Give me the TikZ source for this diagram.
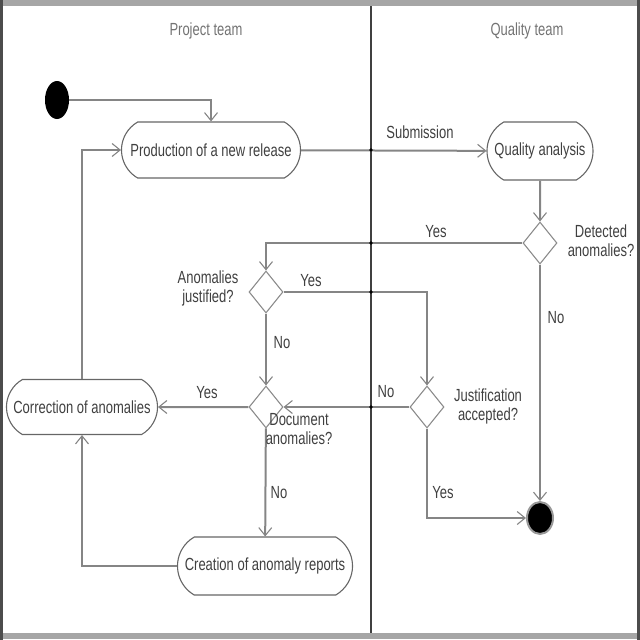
\documentclass[tikz,border=0pt]{standalone}
\usepackage{fontspec}
\setmainfont{Liberation Sans}
\usetikzlibrary{arrows.meta,shapes.misc,shapes.geometric}
\newcommand{\vt}[1]{\scalebox{1}[1.35]{#1}}
\newcommand{\vtt}[2]{\scalebox{1}[1.35]{\begin{tabular}{@{}c@{}}#1\\#2\end{tabular}}}
\begin{document}
\begin{tikzpicture}[x=1pt,y=-1pt,
  every node/.style={font=\fontsize{13}{14}\selectfont, text=black!75, inner sep=0pt},
  act/.style={draw=black!60, line width=1.1pt, rounded rectangle, rounded rectangle arc length=120, inner xsep=2pt},
  dec/.style={draw=black!45, line width=1.1pt, diamond, minimum width=34pt, minimum height=42pt, inner sep=0pt},
  startn/.style={ellipse, fill=black, minimum width=24pt, minimum height=38pt},
  endn/.style={ellipse, fill=black, draw=black!40, line width=2pt, minimum width=26pt, minimum height=32pt},
  conn/.style={draw=black!48, line width=2pt, -{Straight Barb[length=8pt,width=13pt,line width=1.1pt]}},
  lbl/.style={text=black!75},
  title/.style={text=black!55}]
\useasboundingbox (0,0) rectangle (640,640);
% frame
\draw[line width=6pt, black!35] (0,3) -- (640,3);
\draw[line width=6pt, black!35] (0,636) -- (640,636);
\draw[line width=2.5pt, black!70] (1.5,0) -- (1.5,640);
\draw[line width=2.5pt, black!70] (638.5,0) -- (638.5,640);
% lane separator
\draw[line width=1.1pt, black!75] (371,6) -- (371,633);
% titles
\node[title] (t1) at (206,31) {\vt{Project team}};
\node[title] (t2) at (527,31) {\vt{Quality team}};
% nodes
\node[startn] (start) at (57,100) {};
\node[act, minimum width=183pt, minimum height=56pt] (prod) at (211,150) {\vt{Production of a new release}};
\node[act, minimum width=110pt, minimum height=58pt] (qa) at (540,151) {\vt{Quality analysis}};
\node[dec] (det) at (540,243) {};
\node[dec] (just) at (266,292) {};
\node[dec] (doc) at (266,407) {};
\node[dec] (acc) at (427,407) {};
\node[act, minimum width=155pt, minimum height=55pt] (corr) at (82,407) {\vt{Correction of anomalies}};
\node[act, minimum width=179pt, minimum height=58pt] (crea) at (265,566) {\vt{Creation of anomaly reports}};
\node[endn] (end) at (540,518) {};
% connectors
\draw[conn] (start) -| (prod);
\draw[conn] (prod) -- (qa);
\draw[conn] (qa) -- (det);
\draw[conn] (det) -| (just);
\draw[conn] (det) -- (end);
\draw[conn] (just) -| (acc);
\draw[conn] (just) -- (doc);
\draw[conn] (doc) -- (corr);
\draw[conn] (acc) -- (doc);
\draw[conn] (doc) -- (crea);
\draw[conn] (acc) |- (end);
\draw[conn] (corr) |- (prod);
\draw[conn] (crea) -| (corr);
% crossing marks
\foreach \yy in {150,243,292,407} \fill[black] (371,\yy) circle (1.8pt);
% labels
\node[lbl] (lsub) at (420,132) {\vt{Submission}};
\node[lbl] (ly1) at (436,232) {\vt{Yes}};
\node[lbl] (ldet) at (601,243) {\vtt{Detected}{anomalies?}};
\node[lbl] (ljust) at (208,289) {\vtt{Anomalies}{justified?}};
\node[lbl] (ly2) at (311,281) {\vt{Yes}};
\node[lbl] (ln1) at (556,318) {\vt{No}};
\node[lbl] (ln2) at (282,343) {\vt{No}};
\node[lbl] (ly3) at (207,393) {\vt{Yes}};
\node[lbl] (ln3) at (386,392) {\vt{No}};
\node[lbl] (lacc) at (488,407) {\vtt{Justification}{accepted?}};
\node[lbl] (ldoc) at (299,431) {\vtt{Document}{anomalies?}};
\node[lbl] (ln4) at (279,493) {\vt{No}};
\node[lbl] (ly4) at (443,493) {\vt{Yes}};
\end{tikzpicture}
\end{document}
